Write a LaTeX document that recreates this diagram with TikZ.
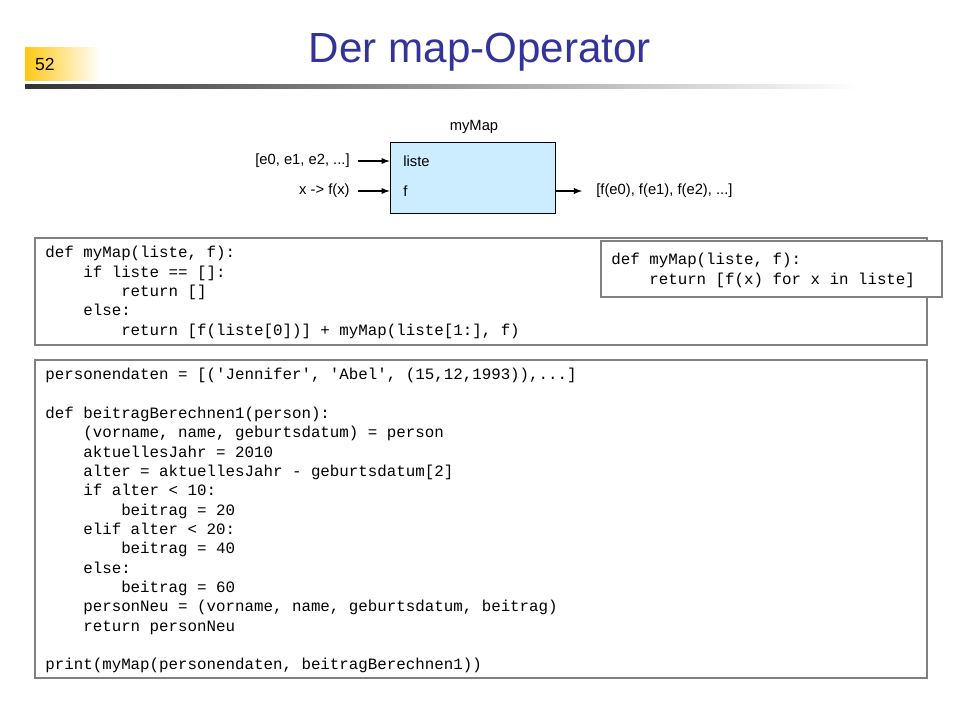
\documentclass[tikz,border=0pt]{standalone}
\usepackage{fontspec}
\setmainfont{Liberation Sans}
\setmonofont{Liberation Mono}
\usetikzlibrary{positioning}
\definecolor{titleblue}{RGB}{51,51,153}
\definecolor{boxblue}{RGB}{204,236,255}
\definecolor{frame}{RGB}{128,128,128}
\definecolor{numyellow}{RGB}{255,200,20}
\newcommand{\ind}[1]{\mbox{}\hspace*{#1\dimexpr 0.6em\relax}}
\begin{document}
\begin{tikzpicture}[x=0.02cm, y=-0.02cm,
  label/.style={font=\fontsize{8.4}{10}\selectfont, inner sep=0pt},
  codebox/.style={draw=frame, line width=0.6pt},
  code/.style={font=\ttfamily\fontsize{9}{11}\selectfont, align=left, anchor=north west, inner sep=0pt},
  arr/.style={-latex, line width=0.6pt}]
  \useasboundingbox (0,0) rectangle (960,720);

  % header
  \shade[left color=numyellow, right color=white] (25,47) rectangle (100,80);
  \node[font=\fontsize{10}{12}\selectfont] (num) at (45,64) {52};
  \shade[left color=black!80, right color=white] (25,84) rectangle (860,88);
  \node[font=\fontsize{24}{28}\selectfont, text=titleblue] (title) at (480,52) {Der map-Operator};

  % operator block
  \node[draw, fill=boxblue, minimum width=165*0.02cm, minimum height=71*0.02cm, inner sep=0pt] (op) at (472.5,177.5) {};
  \node[label] (name) at (474,127) {myMap};
  \node[label, anchor=west] (liste) at (403,161) {liste};
  \node[label, anchor=west] (fin) at (403,191) {f};
  \coordinate (inL) at (358,161);
  \coordinate (inF) at (358,191);
  \coordinate (out) at (582,191);
  \node[label, anchor=east] (listeval) at (350,161) {[e0, e1, e2, ...]};
  \node[label, anchor=east] (fval) at (350,191) {x -> f(x)};
  \node[label, anchor=west] (result) at (596,191) {[f(e0), f(e1), f(e2), ...]};
  \draw[arr] (inL) -- (inL -| op.west);
  \draw[arr] (inF) -- (inF -| op.west);
  \draw[arr] (op.east |- out) -- (out);

  % code boxes
  \draw[codebox] (35,238) rectangle (927,345);
  \node[code] (rec) at (45,246) {def myMap(liste, f):\\
\ind4if liste == []:\\
\ind8return []\\
\ind4else:\\
\ind8return [f(liste[0])] + myMap(liste[1:], f)};

  \draw[codebox, fill=white] (601,241) rectangle (942,297);
  \node[code] (comp) at (611,253) {def myMap(liste, f):\\
\ind4return [f(x) for x in liste]};

  \draw[codebox] (35,360) rectangle (927,678);
  \node[code] (prog) at (45,368) {personendaten = [('Jennifer', 'Abel', (15,12,1993)),...]\\[11pt]
def beitragBerechnen1(person):\\
\ind4(vorname, name, geburtsdatum) = person\\
\ind4aktuellesJahr = 2010\\
\ind4alter = aktuellesJahr - geburtsdatum[2]\\
\ind4if alter < 10:\\
\ind8beitrag = 20\\
\ind4elif alter < 20:\\
\ind8beitrag = 40\\
\ind4else:\\
\ind8beitrag = 60\\
\ind4personNeu = (vorname, name, geburtsdatum, beitrag)\\
\ind4return personNeu\\[11pt]
print(myMap(personendaten, beitragBerechnen1))};
\end{tikzpicture}
\end{document}
